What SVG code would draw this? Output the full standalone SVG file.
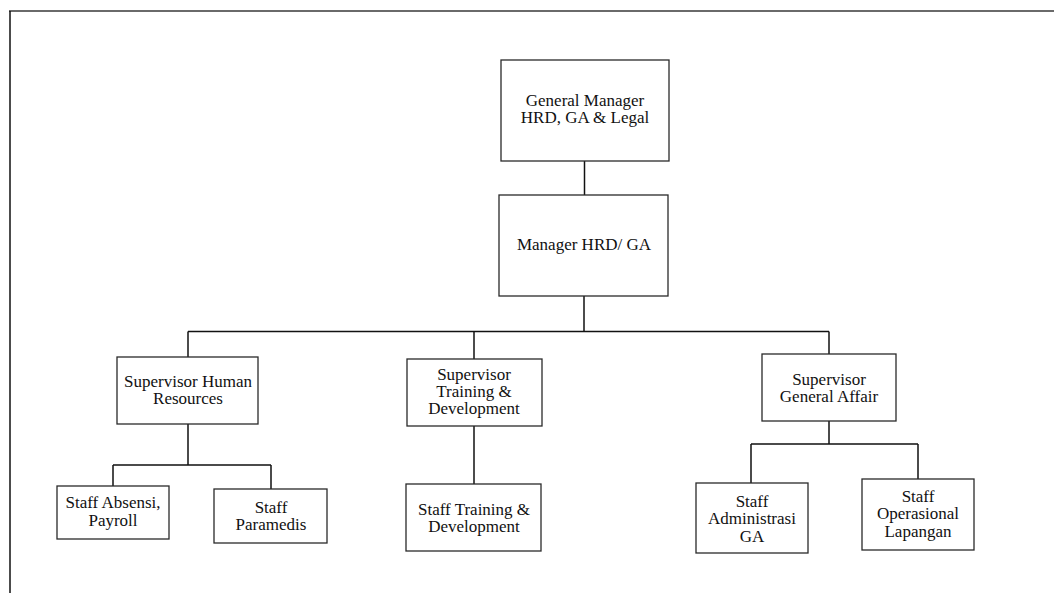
<svg xmlns="http://www.w3.org/2000/svg" width="1054" height="593" viewBox="0 0 1054 593">
  <style>
    .box { fill: #ffffff; stroke: #2a2a2a; stroke-width: 1.3; }
    .lbl { font-family: "Liberation Serif", "Times New Roman", serif; font-size: 17px; fill: #111111; text-anchor: middle; }
    .conn { fill: none; stroke: #111111; stroke-width: 1.5; }
  </style>
  <rect x="0" y="0" width="1054" height="593" fill="#ffffff"/>

  <!-- page frame -->
  <g id="frame">
    <line x1="9" y1="11" x2="1054" y2="11" stroke="#6a6a6a" stroke-width="2"/>
    <line x1="10" y1="11" x2="10" y2="593" stroke="#111111" stroke-width="1.5"/>
  </g>

  <!-- connectors -->
  <g id="connectors" class="conn">
    <path d="M584.5,161 V195"/>
    <path d="M584,296 V331.5"/>
    <path d="M188,331.5 H829"/>
    <path d="M188,331.5 V357"/>
    <path d="M474,331.5 V359"/>
    <path d="M829,331.5 V354"/>
    <path d="M188,424 V465 M113,465 H271 M113,465 V486 M271,465 V489"/>
    <path d="M474,426 V484"/>
    <path d="M829,421 V444 M751,444 H918 M751,444 V483 M918,444 V479"/>
  </g>

  <g id="gm">
    <rect class="box" x="501" y="60" width="168" height="101"/>
    <text class="lbl" x="585" y="106">General Manager</text>
    <text class="lbl" x="585" y="123">HRD, GA &amp; Legal</text>
  </g>

  <g id="manager">
    <rect class="box" x="499" y="195" width="169" height="101"/>
    <text class="lbl" x="584" y="250">Manager HRD/ GA</text>
  </g>

  <g id="sup-hr">
    <rect class="box" x="117" y="357" width="141" height="67"/>
    <text class="lbl" x="188" y="387">Supervisor Human</text>
    <text class="lbl" x="188" y="404">Resources</text>
  </g>

  <g id="sup-td">
    <rect class="box" x="407" y="359" width="135" height="67"/>
    <text class="lbl" x="474" y="380">Supervisor</text>
    <text class="lbl" x="474" y="397">Training &amp;</text>
    <text class="lbl" x="474" y="414">Development</text>
  </g>

  <g id="sup-ga">
    <rect class="box" x="762" y="354" width="134" height="67"/>
    <text class="lbl" x="829" y="385">Supervisor</text>
    <text class="lbl" x="829" y="402">General Affair</text>
  </g>

  <g id="staff-absensi">
    <rect class="box" x="57" y="486" width="112" height="53"/>
    <text class="lbl" x="113" y="508">Staff Absensi,</text>
    <text class="lbl" x="113" y="526">Payroll</text>
  </g>

  <g id="staff-paramedis">
    <rect class="box" x="214" y="489" width="113" height="54"/>
    <text class="lbl" x="271" y="513">Staff</text>
    <text class="lbl" x="271" y="530">Paramedis</text>
  </g>

  <g id="staff-td">
    <rect class="box" x="406" y="484" width="135" height="67"/>
    <text class="lbl" x="474" y="515">Staff Training &amp;</text>
    <text class="lbl" x="474" y="532">Development</text>
  </g>

  <g id="staff-admin">
    <rect class="box" x="696" y="483" width="112" height="70"/>
    <text class="lbl" x="752" y="507">Staff</text>
    <text class="lbl" x="752" y="524">Administrasi</text>
    <text class="lbl" x="752" y="542">GA</text>
  </g>

  <g id="staff-ops">
    <rect class="box" x="862" y="479" width="112" height="71"/>
    <text class="lbl" x="918" y="502">Staff</text>
    <text class="lbl" x="918" y="519">Operasional</text>
    <text class="lbl" x="918" y="537">Lapangan</text>
  </g>
</svg>
